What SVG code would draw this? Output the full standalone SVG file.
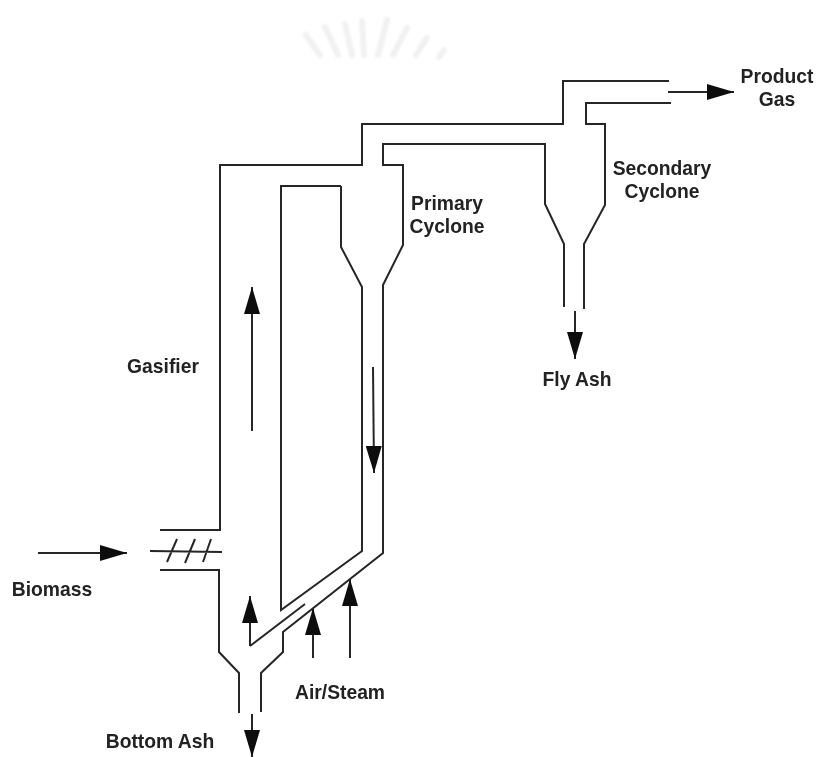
<svg xmlns="http://www.w3.org/2000/svg" width="817" height="757" viewBox="0 0 817 757">
<style>
.wall{fill:none;stroke:#262626;stroke-width:2;stroke-linejoin:miter}
.arrow{fill:none;stroke:#262626;stroke-width:2}
.head{fill:#111}
.wm{fill:none;stroke:#f1f1f1;stroke-width:6;stroke-linecap:round}
text{font-family:"Liberation Sans",Arial,sans-serif;font-size:19.3px;font-weight:bold;fill:#222;text-anchor:middle}
</style>
<defs>
<filter id="soft" x="-5%" y="-5%" width="110%" height="110%"><feGaussianBlur stdDeviation="0.45"/></filter>
<filter id="softer" x="-10%" y="-20%" width="120%" height="140%"><feGaussianBlur stdDeviation="1"/></filter>
<marker id="ah" markerUnits="userSpaceOnUse" markerWidth="30" markerHeight="16" refX="27" refY="8" orient="auto"><path class="head" d="M0 0L27 8L0 16Z"/></marker>
</defs>
<rect width="817" height="757" fill="#fff"/>
<g id="watermark" filter="url(#softer)">
<path class="wm" d="M306 35L320 55M325 27L338 55M345 24L352 55M362 21L364 55M387 20L378 55M407 28L393 55M427 38L416 55M444 50L439 57"/>
</g>
<g id="connectors" filter="url(#soft)">
<path class="arrow" marker-end="url(#ah)" d="M38 553H127"/>
<path class="arrow" marker-end="url(#ah)" d="M252 431V287"/>
<path class="arrow" marker-end="url(#ah)" d="M373 367L374 473"/>
<path class="arrow" marker-end="url(#ah)" d="M250 646V596"/>
<path class="arrow" marker-end="url(#ah)" d="M313 658V608"/>
<path class="arrow" marker-end="url(#ah)" d="M350 658V579"/>
<path class="arrow" marker-end="url(#ah)" d="M252 714V757"/>
<path class="arrow" marker-end="url(#ah)" d="M575 311V359"/>
<path class="arrow" marker-end="url(#ah)" d="M668 92H734"/>
</g>
<g id="gasifier" filter="url(#soft)">
<path class="wall" d="M160 530H220V165H362V124H563V81H669"/>
<path class="wall" d="M160 570H219V652L239 673V713"/>
<path class="wall" d="M150 551L222 552M167 562L177 539M185 563L195 539M203 562L211 539"/>
<path class="wall" d="M341 186H281V610L362 551V287L341 247V186"/>
<path class="wall" d="M305 604L250 646"/>
</g>
<g id="primary-cyclone" filter="url(#soft)">
<path class="wall" d="M261 712V673L283 652V632L383 553V285L403 245V165H383V144H545V204L564 244V307"/>
</g>
<g id="secondary-cyclone" filter="url(#soft)">
<path class="wall" d="M671 103H586V124H605V205L584 244V309"/>
</g>
<g id="labels" filter="url(#soft)">
<text x="777" y="83">Product</text>
<text x="777" y="106">Gas</text>
<text x="662" y="175">Secondary</text>
<text x="662" y="198">Cyclone</text>
<text x="447" y="210">Primary</text>
<text x="447" y="233">Cyclone</text>
<text x="163" y="373">Gasifier</text>
<text x="577" y="386">Fly Ash</text>
<text x="52" y="596">Biomass</text>
<text x="340" y="699">Air/Steam</text>
<text x="160" y="748">Bottom Ash</text>
</g>
</svg>
